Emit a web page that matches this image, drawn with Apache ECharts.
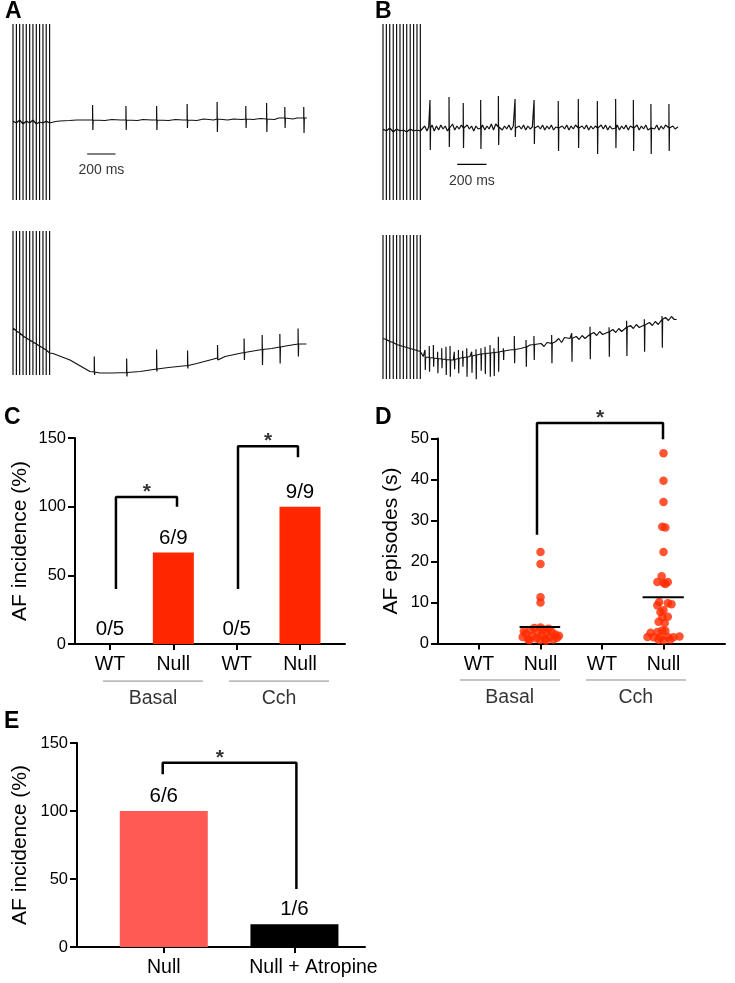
<!DOCTYPE html>
<html><head><meta charset="utf-8">
<script src="https://cdn.jsdelivr.net/npm/echarts/dist/echarts.min.js"></script>
<style>html,body{margin:0;padding:0;background:#fff}#c{width:735px;height:983px}</style>
</head><body><div id="c"></div>
<script>
// ===== Panel A / B : ECG traces (time in ms, amplitude in arbitrary units) =====
const aStimT = [0,24,47,71,94,118,141,165,188,212,235,259];
const aTopStimBase = [-9,-11,-8,-12,-9,-11,-8,-12,-10,-11,-9,-11];
const aTopStimRange = [88,-88];
const aTopBaseline = [[262,-11],[300,-9.5],[332,-9],[400,-8.5],[450,-8],[520,-8],[650,-8.5],[700,-7.5],[760,-8],[880,-8.5],[920,-7.5],[980,-8],[1100,-8.5],[1150,-7.5],[1200,-8],[1300,-8.5],[1350,-7],[1420,-8],[1520,-8],[1560,-7],[1620,-7.5],[1700,-7.5],[1750,-6.5],[1850,-7.5],[1880,-6],[1980,-7],[2010,-6],[2079,-6]];
const aTopSpikes = [[563,-8,7,-18],[799,-8,6,-18],[1016,-8,6,-18],[1232,-8,8,-16],[1444,-7,10,-20],[1647,-7,6,-16],[1794,-7,9,-20],[1923,-6,5,-16],[2057,-6,5,-21]];

const aBotStimBase = [-24.5,-27.5,-29.5,-32.5,-34.5,-36.5,-38.5,-40.5,-42.5,-44.5,-46.5,-49.5];
const aBotStimRange = [72.5,-71.5];
const aBotBaseline = [[262,-51.5],[283,-50],[403,-56.5],[544,-68],[615,-69.5],[700,-69.5],[900,-68],[1100,-64],[1300,-60],[1500,-53],[1600,-50],[1700,-47.5],[1830,-45],[1950,-42],[2076,-40.5]];
const aBotSpikes = [[575,-68.5,-53,-71.5],[804,-69,-55,-73],[1016,-65.5,-46,-68],[1235,-62,-47,-65],[1447,-54.5,-41.5,-56.5],[1635,-49,-35,-56.5],[1763,-46,-31.5,-61.5],[1888,-43.5,-30.5,-60],[2017,-40.5,-25,-53]];

const bStimT = [0,23,46,70,93,116,139,162,186,209,232,255];
const bTopStimBase = [-17,-19,-16,-20,-17,-19,-18,-20,-17,-19,-18,-19];
const bTopStimRange = [88,-88];
const bTopSpikes = [[321,-16,12,-38],[451,-16,15,-35],[548,-16,9,-36],[667,-16,12,-37],[788,-15,16,-33],[902,-16,13,-25],[1032,-16,12,-32],[1197,-16,11,-39],[1334,-16,13,-36],[1464,-16,11,-42],[1589,-16,13,-36],[1710,-16,12,-39],[1830,-16,8,-42],[1953,-16,8,-39]];
const bTopBaseline = [[265,-18],[285,-14],[300,-19],[312,-15],[335,-13],[350,-19],[365,-14],[380,-18],[395,-13],[410,-17],[425,-14],[440,-19],[462,-15],[475,-12],[490,-18],[505,-14],[520,-17],[535,-13],[560,-18],[575,-13],[590,-17],[605,-14],[620,-19],[635,-14],[650,-17],[680,-13],[695,-18],[710,-14],[725,-17],[740,-12],[755,-18],[770,-12],[800,-14],[815,-18],[830,-14],[845,-17],[860,-13],[875,-18],[890,-14],[915,-18],[930,-14],[945,-17],[960,-13],[975,-18],[990,-14],[1005,-17],[1020,-15],[1045,-18],[1060,-14],[1075,-17],[1090,-13],[1105,-18],[1120,-14],[1135,-17],[1150,-13],[1165,-18],[1180,-15],[1210,-18],[1225,-14],[1240,-17],[1255,-13],[1270,-18],[1285,-14],[1300,-17],[1315,-13],[1345,-18],[1360,-14],[1375,-17],[1390,-13],[1405,-18],[1420,-14],[1435,-17],[1450,-14],[1475,-18],[1490,-13],[1505,-17],[1520,-13],[1535,-18],[1550,-14],[1565,-17],[1600,-13],[1615,-18],[1630,-14],[1645,-17],[1660,-13],[1675,-18],[1690,-14],[1720,-17],[1735,-13],[1750,-18],[1765,-14],[1780,-17],[1795,-13],[1810,-18],[1840,-14],[1855,-17],[1870,-13],[1885,-18],[1900,-14],[1915,-17],[1930,-13],[1965,-18],[1980,-14],[1995,-17],[2015,-15]];

const bBotStimBase = [-31,-32,-34,-35,-37,-38,-39,-40,-41,-42,-43,-44];
const bBotStimRange = [72.5,-71.5];
const bBotBaseline = [[275,-49],[480,-52.5],[594,-49],[708,-46],[867,-42.5],[940,-41],[1004,-37.5],[1080,-36],[1100,-39],[1120,-35],[1180,-34],[1200,-31],[1220,-35],[1240,-30],[1277,-31],[1320,-29],[1340,-32],[1360,-28],[1380,-31],[1440,-25],[1460,-28],[1480,-24],[1500,-27],[1551,-24],[1570,-22],[1590,-25],[1610,-21],[1630,-24],[1690,-18],[1710,-21],[1730,-17],[1750,-20],[1801,-17.5],[1820,-15],[1840,-18],[1860,-14],[1880,-17],[1930,-10],[1950,-13],[1970,-9],[1990,-12],[2006,-12]];
const bBotSpikes = [[287,-49.5,-42.5,-62.5],[316,-50,-38.5,-64.2],[344,-50.5,-37.5,-59.2],[373,-51,-44.2,-65.8],[401,-51.5,-40.8,-60.8],[430,-52,-39.2,-67.5],[458,-52.5,-38.5,-69.2],[487,-52,-44.2,-61.8],[515,-51,-42.5,-65.8],[544,-50,-43.2,-59.2],[572,-49.5,-40.8,-69.2],[606,-48.5,-44.2,-65.2],[635,-47.5,-41.8,-71.8],[669,-46.5,-40.8,-63.2],[697,-46,-39.2,-66.5],[731,-45.5,-37.5,-69.2],[758,-45,-40.8,-68.5],[788,-44.5,-29.2,-64.2],[822,-43.5,-40.8,-52.5],[897,-42,-28.5,-55.8],[977,-39.5,-32.5,-59.2],[1031,-37,-28.5,-52.5],
  [1152,-35.8,-27.5,-55.8],[1289,-30.8,-25.8,-54.2],[1414,-26.8,-19.2,-51.8],[1544,-24.2,-19.8,-49.2],[1664,-19.8,-13.2,-48.5],[1785,-17.5,-11.8,-44.2],[1906,-11.8,-8.5,-40.2]];

const scaleBarMs = 200;
const scaleBarLabel = '200 ms';

// ===== Panel C =====
const cCats = ['WT','Null','WT','Null'];
const cPos = [1,2,3,4];
const cValues = [0,66.7,0,100];
const cFractions = ['0/5','6/9','0/5','9/9'];
const cGroups = ['Basal','Cch'];

// ===== Panel D =====
const dCats = ['WT','Null','WT','Null'];
const dPos = [1,2,3,4];
const dGroups = ['Basal','Cch'];
// [jitter (category widths), AF episode duration (s)]
const dBasalNull = [[0,22.3],[0,19.4],[0,11.3],[0,10.0],
  [-0.29,1.6],[-0.24,2.4],[-0.20,1.0],[-0.16,3.3],[-0.13,1.8],[-0.10,3.8],[-0.07,1.2],[-0.04,2.7],[-0.01,0.9],[0.00,3.9],[0.02,2.0],[0.05,3.4],[0.07,1.1],[0.10,2.6],[0.13,3.6],[0.15,1.5],[0.18,2.9],[0.21,1.0],[0.24,2.2],[0.27,1.4],[0.30,1.9],[-0.27,3.0],[0.09,0.7],[-0.18,0.8]];
const dCchNull = [[0,46.4],[0,39.7],[0,34.5],[-0.02,28.5],[0.03,28.3],[0,22.3],
  [-0.03,16.4],[-0.10,15.0],[0,14.8],[0.07,15.0],[0.03,14.5],
  [-0.07,10.1],[0.07,9.8],[0.13,9.6],[-0.10,9.3],[0,8.1],[-0.05,7.7],[0.07,6.5],[-0.02,6.4],[-0.08,5.3],[0.02,5.0],[-0.02,3.2],[-0.21,2.6],[-0.10,2.8],[0.03,3.1],[-0.26,1.6],[-0.16,1.5],[-0.05,1.5],[0.07,1.6],[0.16,1.5],[0.26,1.7],[0,0.8],[0.11,1.0],[-0.08,0.9]];
const dMeans = [4.0, 11.3];

// ===== Panel E =====
const eCats = ['Null','Null + Atropine'];
const ePos = [1,2];
const eValues = [100,16.7];
const eFractions = ['6/6','1/6'];

// ---------------------------------------------------------------
const FONT = 'Liberation Sans, Arial, Helvetica, sans-serif';

function buildTrace(stimT, stimBase, stimRange, baseline, spikes) {
  const items = [];
  stimT.forEach((t,i)=>items.push({t, pts:[[t,stimBase[i]],[t,stimRange[0]],[t,stimRange[1]],[t,stimBase[i]]]}));
  baseline.forEach(p=>items.push({t:p[0], pts:[p]}));
  spikes.forEach(s=>items.push({t:s[0], pts:[[s[0],s[1]],[s[0],s[2]],[s[0]+2,s[3]],[s[0]+4,s[1]]]}));
  items.sort((a,b)=>a.t-b.t);
  return items.flatMap(it=>it.pts);
}

const chart = echarts.init(document.getElementById('c'), null, {renderer:'canvas'});

const hiddenAxis = (min,max,gi)=>({type:'value',gridIndex:gi,min,max,show:false});

function catAxis(gi,min,max,pos,cats,shiftLast){
  return {type:'value',gridIndex:gi,min,max,
    axisLine:{show:true,onZero:false,lineStyle:{color:'#000',width:2}},
    axisTick:{show:true,customValues:pos,length:6,lineStyle:{color:'#000',width:2}},
    axisLabel:{show:true,customValues:pos,
      formatter:v=>{const i=pos.indexOf(v);return (shiftLast&&i===pos.length-1)?'{s|'+cats[i]+'}':cats[i];},
      rich:{s:{fontSize:19.5,color:'#000',fontFamily:FONT,padding:[0,0,0,38]}},
      fontSize:19.5,color:'#000',margin:11,fontFamily:FONT},
    splitLine:{show:false}};
}
function valAxis(gi,min,max,interval,name,gap){
  return {type:'value',gridIndex:gi,min,max,interval,
    name,nameLocation:'middle',nameGap:gap,nameTextStyle:{fontSize:21,color:'#000',fontFamily:FONT},
    axisLine:{show:true,lineStyle:{color:'#000',width:2}},
    axisTick:{show:true,length:7,lineStyle:{color:'#000',width:2}},
    axisLabel:{fontSize:16.5,color:'#000',margin:9,fontFamily:FONT},
    splitLine:{show:false}};
}

const traceLine = (xi,data,w)=>({type:'line',xAxisIndex:xi,yAxisIndex:xi,data,showSymbol:false,symbol:'none',
  lineStyle:{color:'#111',width:w},clip:false,silent:true,animation:false});
const segLine = (xi,data,color,w)=>({type:'line',xAxisIndex:xi,yAxisIndex:xi,data,symbol:'none',showSymbol:false,
  lineStyle:{color,width:w},clip:false,silent:true,animation:false,z:5});
const textPoint = (xi,pt,text,opts)=>({type:'scatter',xAxisIndex:xi,yAxisIndex:xi,data:[pt],symbolSize:0,
  itemStyle:{color:'transparent'},clip:false,silent:true,animation:false,
  label:Object.assign({show:true,formatter:text,color:'#000',fontFamily:FONT},opts)});

const star = (xi,pt)=>textPoint(xi,pt,'*',{position:'inside',offset:[0,-5],fontSize:21,fontWeight:'bold'});

const series = [
  traceLine(0, buildTrace(aStimT,aTopStimBase,aTopStimRange,aTopBaseline,aTopSpikes),1.2),
  traceLine(1, buildTrace(aStimT,aBotStimBase,aBotStimRange,aBotBaseline,aBotSpikes),1.2),
  traceLine(2, buildTrace(bStimT,bTopStimBase,bTopStimRange,bTopBaseline,bTopSpikes),1.2),
  traceLine(3, buildTrace(bStimT,bBotStimBase,bBotStimRange,bBotBaseline,bBotSpikes),1.2),
  // scale bars
  segLine(0, [[525,-42],[525+scaleBarMs,-42]], '#000', 1.2),
  textPoint(0, [525+scaleBarMs/2,-42], scaleBarLabel, {position:'bottom',distance:9,fontSize:14}),
  segLine(2, [[507,-52.3],[507+scaleBarMs,-52.3]], '#000', 1.2),
  textPoint(2, [507+scaleBarMs/2,-52.3], scaleBarLabel, {position:'bottom',distance:10,fontSize:14}),

  // Panel C bars
  {type:'bar',xAxisIndex:4,yAxisIndex:4,barWidth:41,animation:false,
   data:cPos.map((x,i)=>[x,cValues[i]]),itemStyle:{color:'#ff2600'},
   label:{show:true,position:'top',distance:4,fontSize:20.5,color:'#000',fontFamily:FONT,
     formatter:p=>cFractions[p.dataIndex]}},
  segLine(4, [[1.094,40],[1.094,107],[2.058,107],[2.058,100]], '#000', 2.5),
  segLine(4, [[3.021,40],[3.021,144],[3.968,144],[3.968,136]], '#000', 2.5),
  star(4,[1.58,107]), star(4,[3.495,144]),
  segLine(4, [[0.889,-27],[2.468,-27]], '#8a8a8a', 1),
  segLine(4, [[2.879,-27],[4.458,-27]], '#8a8a8a', 1),
  textPoint(4,[1.68,-27],cGroups[0],{position:'bottom',distance:8,fontSize:19.5}),
  textPoint(4,[3.67,-27],cGroups[1],{position:'bottom',distance:8,fontSize:19.5}),

  // Panel D
  {type:'scatter',xAxisIndex:5,yAxisIndex:5,symbolSize:8.5,animation:false,itemStyle:{color:'#ff2a00'},
   data:dBasalNull.map(p=>[dPos[1]+p[0],p[1]])},
  {type:'scatter',xAxisIndex:5,yAxisIndex:5,symbolSize:8.5,animation:false,itemStyle:{color:'#ff2a00'},
   data:dCchNull.map(p=>[dPos[3]+p[0],p[1]])},
  segLine(5, [[dPos[1]-0.34,dMeans[0]],[dPos[1]+0.32,dMeans[0]]], '#000', 2),
  segLine(5, [[dPos[3]-0.34,dMeans[1]],[dPos[3]+0.33,dMeans[1]]], '#000', 2),
  segLine(5, [[1.943,26.5],[1.943,53.8],[3.992,53.8],[3.992,49.8]], '#000', 2.5),
  star(5,[2.97,53.8]),
  segLine(5, [[0.691,-8.9],[2.317,-8.9]], '#8a8a8a', 1),
  segLine(5, [[2.74,-8.9],[4.366,-8.9]], '#8a8a8a', 1),
  textPoint(5,[1.50,-8.9],dGroups[0],{position:'bottom',distance:8,fontSize:19.5}),
  textPoint(5,[3.55,-8.9],dGroups[1],{position:'bottom',distance:8,fontSize:19.5}),

  // Panel E
  {type:'bar',xAxisIndex:6,yAxisIndex:6,barWidth:88,animation:false,
   data:ePos.map((x,i)=>({value:[x,eValues[i]],itemStyle:{color:i===0?'#ff5b54':'#000'}})),
   label:{show:true,position:'top',distance:4,fontSize:20.5,color:'#000',fontFamily:FONT,
     formatter:p=>eFractions[p.dataIndex]}},
  segLine(6, [[0.992,127],[0.992,135.5],[2.015,135.5],[2.015,42.6]], '#000', 2.5),
  star(6,[1.43,135.5]),
];

const option = {
  animation:false,
  backgroundColor:'#fff',
  textStyle:{fontFamily:FONT},
  grid:[
    {left:13,top:24,width:294,height:176},
    {left:13,top:231,width:294,height:145},
    {left:383,top:24,width:295,height:176},
    {left:383,top:235,width:295,height:145},
    {left:75,top:438,width:270,height:206},
    {left:438,top:438.5,width:287,height:205},
    {left:77,top:743,width:288,height:204}
  ],
  xAxis:[
    hiddenAxis(0,2080,0), hiddenAxis(0,2080,1), hiddenAxis(0,2015,2), hiddenAxis(0,2015,3),
    catAxis(4,0.4474,4.7105,cPos,cCats,false),
    catAxis(5,1/3,5,dPos,dCats,false),
    catAxis(6,0.336,2.54,ePos,eCats,true)
  ],
  yAxis:[
    hiddenAxis(-88,88,0), hiddenAxis(-72.5,72.5,1), hiddenAxis(-88,88,2), hiddenAxis(-72.5,72.5,3),
    valAxis(4,0,150,50,'AF incidence (%)',44),
    valAxis(5,0,50,10,'AF episodes (s)',36),
    valAxis(6,0,150,50,'AF incidence (%)',46)
  ],
  series,
  graphic:[
    {type:'text',left:5,top:0,style:{text:'A',font:'bold 23px '+FONT,fill:'#000'}},
    {type:'text',left:375,top:0,style:{text:'B',font:'bold 23px '+FONT,fill:'#000'}},
    {type:'text',left:4,top:406,style:{text:'C',font:'bold 23px '+FONT,fill:'#000'}},
    {type:'text',left:375,top:406,style:{text:'D',font:'bold 23px '+FONT,fill:'#000'}},
    {type:'text',left:4,top:710,style:{text:'E',font:'bold 23px '+FONT,fill:'#000'}}
  ]
};
chart.setOption(option);
</script>
</body></html>
